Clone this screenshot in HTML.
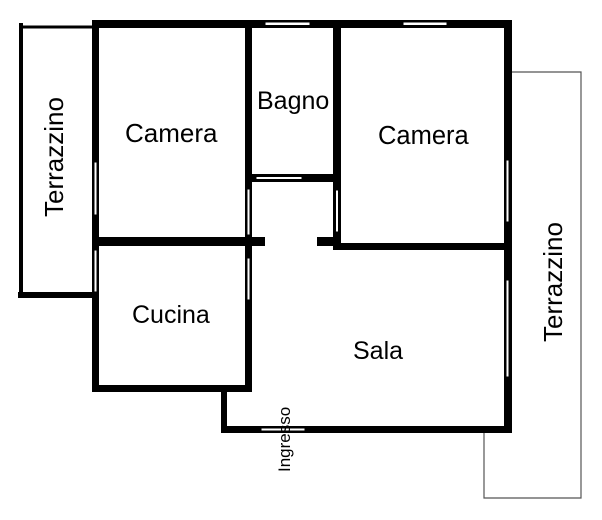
<!DOCTYPE html>
<html><head><meta charset="utf-8"><style>
html,body{margin:0;padding:0;background:#fff;}
svg{display:block;}
text{font-family:"Liberation Sans",Arial,sans-serif;fill:#000;}
</style></head><body>
<svg width="602" height="520" viewBox="0 0 602 520" xmlns="http://www.w3.org/2000/svg">
<rect width="602" height="520" fill="#fff"/>
<!-- left terrace -->
<rect x="19" y="23" width="4" height="275" fill="#000"/>
<rect x="19" y="25.5" width="75" height="3" fill="#000"/>
<rect x="18" y="292" width="76" height="6" fill="#000"/>
<!-- right terrace -->
<polyline points="512,72 581,72 581,498 484,498 484,433" fill="none" stroke="#555" stroke-width="1.2"/>
<!-- walls -->
<g fill="#000">
<rect x="92" y="20" width="420" height="8"/>
<rect x="92" y="20" width="7" height="372"/>
<rect x="245" y="20" width="7" height="372"/>
<rect x="333" y="20" width="8" height="230"/>
<rect x="504" y="20" width="8" height="413"/>
<rect x="252" y="174" width="85" height="8"/>
<rect x="92" y="237" width="173" height="9"/>
<rect x="317" y="237" width="20" height="9"/>
<rect x="333" y="243" width="179" height="7"/>
<rect x="92" y="385" width="160" height="7"/>
<rect x="221" y="385" width="6" height="48"/>
<rect x="221" y="426" width="291" height="7"/>
</g>
<!-- windows -->
<g fill="#fff" stroke="#000" stroke-width="1">
<rect x="265" y="22" width="45" height="3.5"/>
<rect x="403" y="22" width="44" height="3.5"/>
<rect x="94" y="162" width="3" height="53"/>
<rect x="94" y="250" width="3" height="42"/>
<rect x="247" y="189" width="3" height="46"/>
<rect x="247" y="258" width="3" height="42"/>
<rect x="335.5" y="190" width="3" height="42"/>
<rect x="256" y="176.5" width="46" height="3"/>
<rect x="506" y="160" width="3" height="62"/>
<rect x="506" y="280" width="3" height="97"/>
<rect x="261" y="428" width="44" height="3"/>
</g>
<!-- labels -->
<text x="125" y="142" font-size="26">Camera</text>
<text x="257" y="109" font-size="25">Bagno</text>
<text x="378" y="144" font-size="25.5">Camera</text>
<text x="132" y="323" font-size="25">Cucina</text>
<text x="353" y="359" font-size="25">Sala</text>
<text transform="translate(63,217) rotate(-90)" font-size="26">Terrazzino</text>
<text transform="translate(562,342) rotate(-90)" font-size="26">Terrazzino</text>
<text transform="translate(290,472) rotate(-90)" font-size="17">Ingresso</text>
</svg>
</body></html>
